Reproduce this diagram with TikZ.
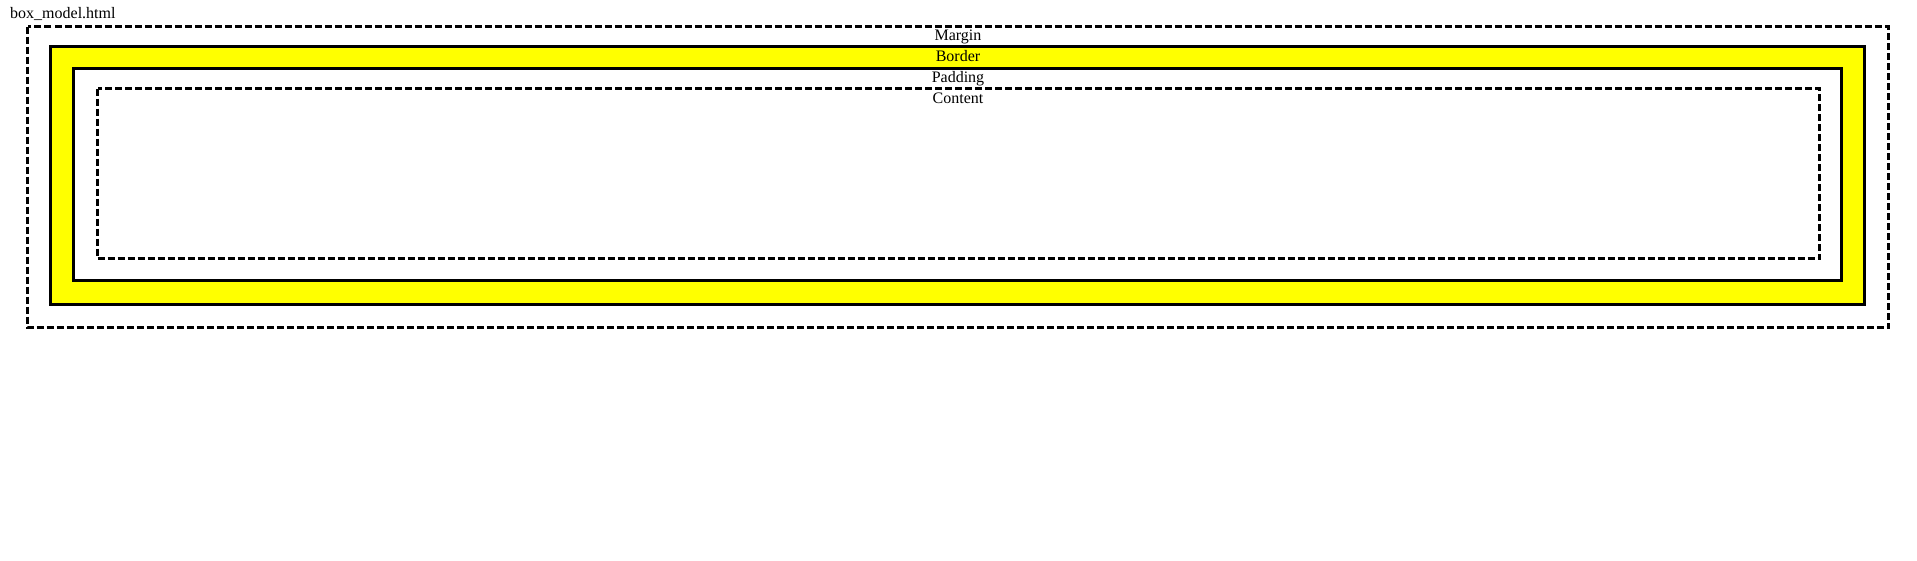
\documentclass[tikz,border=0pt]{standalone}
\usepackage{fontspec}
\setmainfont{Liberation Serif}
\usetikzlibrary{calc}
\definecolor{boxyellow}{RGB}{255,255,0}

\begin{document}
\begin{tikzpicture}[x=1pt,y=-1pt,
  dashbox/.style={line width=3pt, dash pattern=on 7pt off 3pt},
  solidbox/.style={line width=3pt},
  lbl/.style={inner sep=0pt, font=\fontsize{16}{19}\selectfont}]
  \useasboundingbox (0,0) rectangle (1917,560);

  % Corners of the four boxes
  \coordinate (M1) at (27.5,26.5);
  \coordinate (M2) at (1888.5,327.5);
  \coordinate (B1) at (50.5,46.5);
  \coordinate (B2) at (1864.5,304.5);
  \coordinate (P1) at (73.5,68.5);
  \coordinate (P2) at (1841.5,280.5);
  \coordinate (C1) at (97.5,88.5);
  \coordinate (C2) at (1819.5,258.5);

  % Draw the margin box
  \draw[dashbox] (M1) rectangle (M2);

  % Draw the border box, filled yellow
  \filldraw[solidbox, fill=boxyellow] (B1) rectangle (B2);

  % Draw the padding box
  \filldraw[solidbox, fill=white] (P1) rectangle (P2);

  % Draw the content box
  \draw[dashbox] (C1) rectangle (C2);

  % Label the file and the boxes
  \node[lbl, anchor=base west] (file) at (10,18.3) {box\_model.html};
  \node[lbl, anchor=base] (margin) at (958,40.7) {Margin};
  \node[lbl, anchor=base] (border) at (958,61.7) {Border};
  \node[lbl, anchor=base] (padding) at (958,82.3) {Padding};
  \node[lbl, anchor=base] (content) at (958,103.3) {Content};
\end{tikzpicture}
\end{document}
